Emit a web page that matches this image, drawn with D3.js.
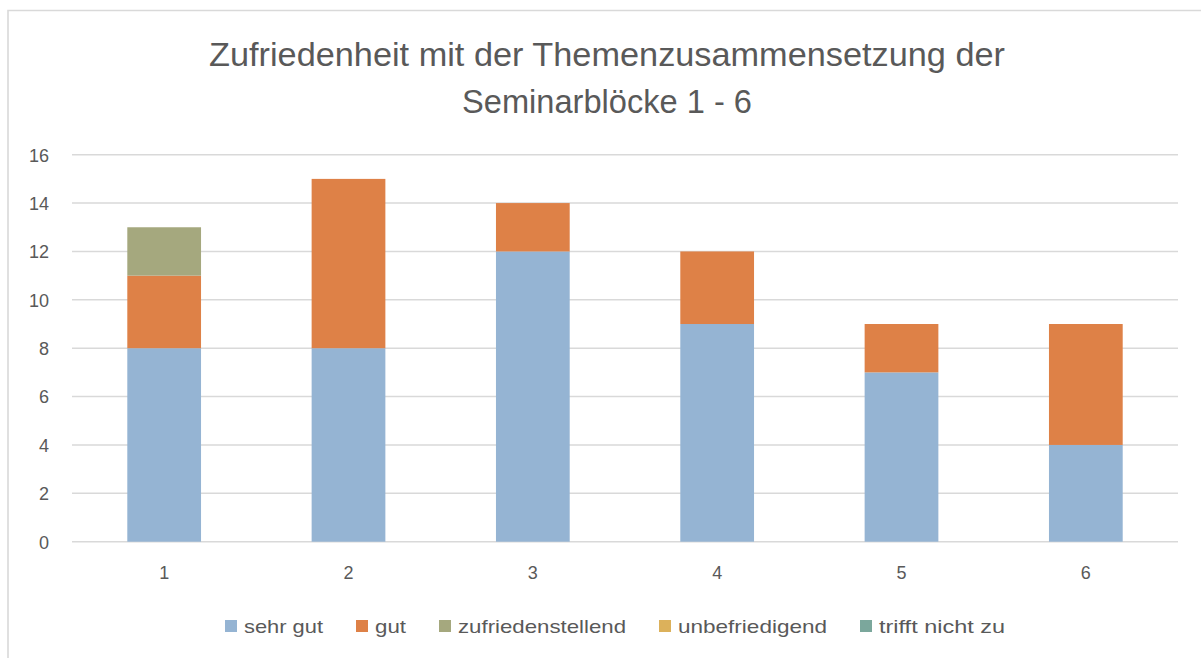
<!DOCTYPE html>
<html><head><meta charset="utf-8">
<script src="https://cdn.jsdelivr.net/npm/d3@7"></script>
<style>
html,body{margin:0;padding:0;background:#fff;}
svg{display:block;}
text{font-family:"Liberation Sans","DejaVu Sans",sans-serif;fill:#595959;}
</style></head>
<body>
<svg id="chart" width="1201" height="658"></svg>
<script>
const titleLines = ["Zufriedenheit mit der Themenzusammensetzung der", "Seminarblöcke 1 - 6"];
const categories = ["1", "2", "3", "4", "5", "6"];
const seriesNames = ["sehr gut", "gut", "zufriedenstellend", "unbefriedigend", "trifft nicht zu"];
const sehrGut = [8, 8, 12, 9, 7, 4];
const gut = [3, 7, 2, 3, 2, 5];
const zufriedenstellend = [2, 0, 0, 0, 0, 0];
const unbefriedigend = [0, 0, 0, 0, 0, 0];
const trifftNichtZu = [0, 0, 0, 0, 0, 0];
const yTicks = [0, 2, 4, 6, 8, 10, 12, 14, 16];
const colors = ["#95b4d3", "#de8147", "#a5a87e", "#dcb15b", "#7ba79c"];

const seriesValues = [sehrGut, gut, zufriedenstellend, unbefriedigend, trifftNichtZu];
const rows = categories.map((c, i) => {
  const r = {cat: c};
  seriesNames.forEach((s, j) => r[s] = seriesValues[j][i]);
  return r;
});

const svg = d3.select("#chart");
// frame
svg.append("path").attr("d", "M8,660 L8,10.5 L1205,10.5")
  .attr("fill", "none").attr("stroke", "#d9d9d9").attr("stroke-width", 1.6);

const plot = {left: 72, right: 1178, top: 154.7, bottom: 541.7};
const x = d3.scaleBand().domain(categories).range([plot.left, plot.right]).paddingInner(0.6).paddingOuter(0.3);
const y = d3.scaleLinear().domain([0, 16]).range([plot.bottom, plot.top]);

// gridlines
svg.append("g").selectAll("line").data(yTicks).join("line")
  .attr("x1", plot.left).attr("x2", plot.right)
  .attr("y1", d => y(d)).attr("y2", d => y(d))
  .attr("stroke", "#d9d9d9").attr("stroke-width", 1.5);

// y axis labels
const yAxis = d3.axisLeft(y).tickValues(yTicks).tickSize(0).tickPadding(0);
const gy = svg.append("g").attr("transform", "translate(49,0)").call(yAxis);
gy.select(".domain").remove();
gy.selectAll("text").attr("font-size", 18).style("font-family", "Liberation Sans").attr("fill", "#595959").attr("dy", "0.35em");

// x axis labels
const xAxis = d3.axisBottom(x).tickSize(0).tickPadding(0);
const gx = svg.append("g").attr("transform", "translate(0,566)").call(xAxis);
gx.select(".domain").remove();
gx.selectAll("text").attr("font-size", 18).style("font-family", "Liberation Sans").attr("fill", "#595959").attr("dy", "0.71em");

// stacked bars
const stack = d3.stack().keys(seriesNames)(rows);
svg.append("g").selectAll("g").data(stack).join("g")
  .attr("fill", (d, i) => colors[i])
  .selectAll("rect").data(d => d).join("rect")
  .attr("x", d => x(d.data.cat))
  .attr("width", x.bandwidth())
  .attr("y", d => y(d[1]))
  .attr("height", d => Math.max(0, y(d[0]) - y(d[1])));

// title
const titleWidths = [796, 290];
titleLines.forEach((t, i) => {
  const el = svg.append("text").attr("x", 607).attr("y", 66 + i * 47)
    .attr("text-anchor", "middle").attr("font-size", 33).text(t);
  el.attr("textLength", titleWidths[i]).attr("lengthAdjust", "spacingAndGlyphs");
});

// legend
const legendTextWidths = [79, 31, 168, 149, 126];
const legend = svg.append("g");
let lx = 225;
const items = [];
seriesNames.forEach((s, i) => {
  const g = legend.append("g");
  g.append("rect").attr("x", lx).attr("y", 620).attr("width", 12).attr("height", 12).attr("fill", colors[i]);
  g.append("text").attr("x", lx + 19).attr("y", 633).attr("font-size", 19)
    .attr("textLength", legendTextWidths[i]).attr("lengthAdjust", "spacingAndGlyphs").text(s);
  lx += 19 + legendTextWidths[i] + 33;
});
</script>
</body></html>
